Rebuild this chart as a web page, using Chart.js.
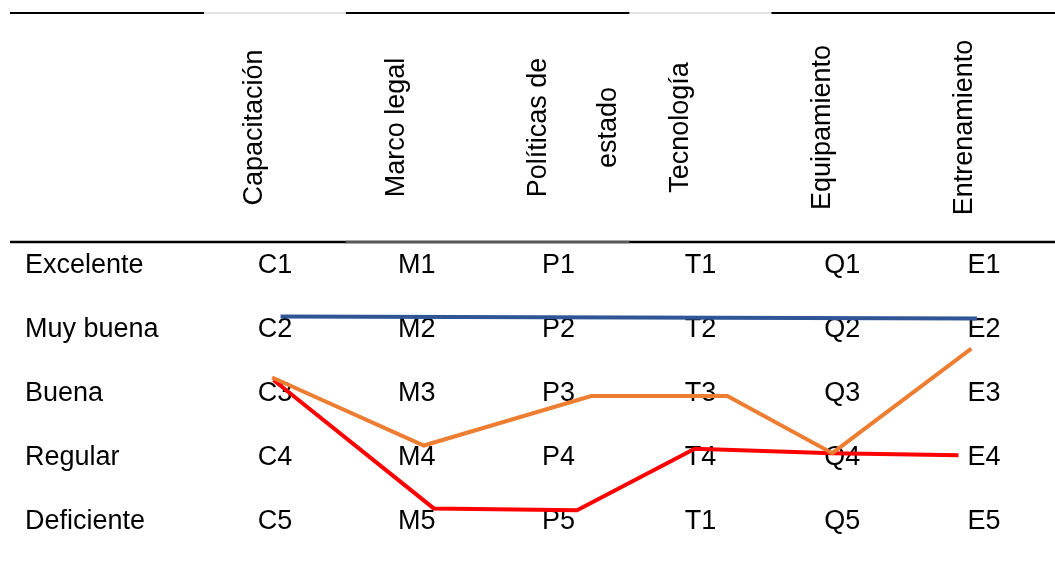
<!DOCTYPE html>
<html lang="es">
<head>
<meta charset="utf-8">
<title>Valoración por criterio</title>
<script src="https://cdn.jsdelivr.net/npm/chart.js@4.4.1/dist/chart.umd.min.js"></script>
<style>
  html, body { margin: 0; padding: 0; background: #fff; }
  #wrap { width: 1055px; height: 561px; position: relative; }
</style>
</head>
<body>
<div id="wrap"><canvas id="chart"></canvas></div>
<script>
"use strict";

// filas (escala) y columnas (criterios)
var rowLabels = ["Excelente", "Muy buena", "Buena", "Regular", "Deficiente"];
var columnHeaders = [["Capacitación"], ["Marco legal"], ["Políticas de", "estado"], ["Tecnología"], ["Equipamiento"], ["Entrenamiento"]];

// codigos de cada celda, por columna
var cellCodes = [
  ["C1", "C2", "C3", "C4", "C5"],
  ["M1", "M2", "M3", "M4", "M5"],
  ["P1", "P2", "P3", "P4", "P5"],
  ["T1", "T2", "T3", "T4", "T1"],
  ["Q1", "Q2", "Q3", "Q4", "Q5"],
  ["E1", "E2", "E3", "E4", "E5"]
];

// trazos: x = columna (0..5), y = fila (1 = Excelente ... 5 = Deficiente)
var blueX = [0.04, 4.95];
var blueY = [1.80, 1.83];
var orangeX = [-0.02, 1.05, 2.23, 3.19, 3.93, 4.91];
var orangeY = [2.75, 3.81, 3.04, 3.04, 3.93, 2.30];
var redX = [-0.01, 1.12, 2.13, 2.96, 3.93, 4.82];
var redY = [2.79, 4.79, 4.82, 3.86, 3.93, 3.96];

var FAMILY = "'Liberation Sans', Arial, sans-serif";
var FONT = "27px " + FAMILY;

var pts = function(xs, ys) {
    return xs.map(function(x, i) { return { x: x, y: ys[i] }; });
};

// dibuja la tabla (reglas, encabezados girados y codigos) bajo las lineas
var tablePlugin = {
    id: "tabla",
    beforeDatasetsDraw: function(chart) {
        var ctx = chart.ctx, xs = chart.scales.x, ys = chart.scales.y, area = chart.chartArea;
        var headTop = 13, headBottom = area.top;
        var edge = function(v) { return xs.getPixelForValue(v); };
        var rule = function(y, x0, x1, color, w) {
            ctx.beginPath();
            ctx.strokeStyle = color;
            ctx.lineWidth = w;
            ctx.moveTo(x0, y);
            ctx.lineTo(x1, y);
            ctx.stroke();
        };
        ctx.save();
        rule(headTop, 10, chart.width, "#000", 2);
        rule(headTop, edge(-0.5), edge(0.5), "#fff", 2);
        rule(headTop, edge(-0.5), edge(0.5), "#c8c8c8", 1);
        rule(headTop, edge(2.5), edge(3.5), "#fff", 2);
        rule(headTop, edge(2.5), edge(3.5), "#c8c8c8", 1);
        rule(headBottom, 10, chart.width, "#000", 2.5);
        rule(headBottom, edge(0.5), edge(2.5), "#5a5a5a", 2.5);

        ctx.font = FONT;
        ctx.fillStyle = "#000";
        ctx.textAlign = "center";
        ctx.textBaseline = "middle";
        columnHeaders.forEach(function(lines, i) {
            var x = xs.getPixelForValue(i) - 20;
            lines.forEach(function(t, k) {
                ctx.save();
                ctx.translate(x + k * 70, (headTop + headBottom) / 2);
                ctx.rotate(-Math.PI / 2);
                ctx.fillText(t, 0, 0);
                ctx.restore();
            });
        });
        cellCodes.forEach(function(col, i) {
            col.forEach(function(t, r) {
                ctx.fillText(t, xs.getPixelForValue(i), ys.getPixelForValue(r + 1));
            });
        });
        ctx.restore();
    }
};

var lineSet = function(label, data, color) {
    return {
        label: label,
        data: data,
        borderColor: color,
        backgroundColor: color,
        borderWidth: 4,
        pointRadius: 0,
        tension: 0,
        fill: false
    };
};

new Chart(document.getElementById("chart"), {
    type: "line",
    data: {
        datasets: [
            lineSet("Serie azul", pts(blueX, blueY), "#2F5597"),
            lineSet("Serie naranja", pts(orangeX, orangeY), "#ED7D31"),
            lineSet("Serie roja", pts(redX, redY), "#FF0000")
        ]
    },
    options: {
        responsive: true,
        maintainAspectRatio: false,
        animation: false,
        layout: { padding: { top: 242, left: 25, right: 0, bottom: 7 } },
        plugins: { legend: { display: false }, tooltip: { enabled: false } },
        scales: {
            x: { type: "linear", min: -0.5, max: 5.5, display: false },
            y: {
                type: "linear",
                reverse: true,
                min: 0.64,
                max: 5.5,
                grid: { display: false },
                border: { display: false },
                afterBuildTicks: function(s) {
                    s.ticks = rowLabels.map(function(_, i) { return { value: i + 1 }; });
                },
                afterFit: function(s) {
                    s.width = 179;
                    s.paddingTop = 0;
                    s.paddingBottom = 0;
                },
                ticks: {
                    autoSkip: false,
                    crossAlign: "far",
                    color: "#000",
                    font: { family: FAMILY, size: 27 },
                    callback: function(v) { return rowLabels[v - 1] || ""; }
                }
            }
        }
    },
    plugins: [tablePlugin]
});
</script>
</body>
</html>
